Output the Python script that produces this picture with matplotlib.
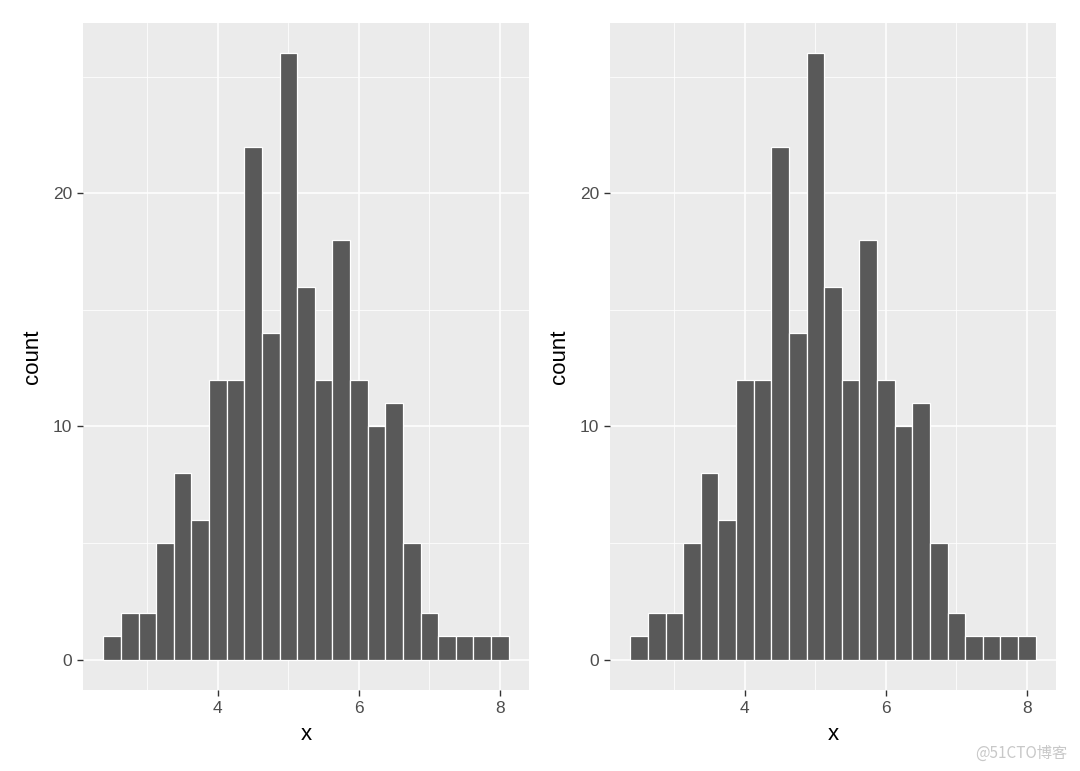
import matplotlib
matplotlib.use("Agg")
import matplotlib.pyplot as plt
import numpy as np

plt.rcParams["font.family"] = ["Liberation Sans", "DejaVu Sans"]

# histogram counts, binwidth 0.25, bins centred on 2.5 ... 8.0
bin_centers = [2.5 + 0.25 * i for i in range(23)]
counts = [1, 2, 2, 5, 8, 6, 12, 12, 22, 14, 26, 16, 12, 18, 12, 10, 11, 5, 2, 1, 1, 1, 1]
binwidth = 0.25
x_ticks = [4, 6, 8]
y_ticks = [0, 10, 20]

fig = plt.figure(figsize=(10.8, 7.71), dpi=100)

panel_lefts = [83 / 1080, 610 / 1080]
panel_w = 446 / 1080
panel_b = 1 - 690 / 771
panel_h = (690 - 23) / 771

lo = bin_centers[0] - binwidth / 2
hi = bin_centers[-1] + binwidth / 2
xpad = (hi - lo) * 0.05
ypad = max(counts) * 0.05

for left in panel_lefts:
    ax = fig.add_axes([left, panel_b, panel_w, panel_h])
    ax.set_facecolor("#EBEBEB")
    for s in ax.spines.values():
        s.set_visible(False)
    ax.set_xlim(lo - xpad, hi + xpad)
    ax.set_ylim(-ypad, max(counts) + ypad)
    ax.set_xticks(x_ticks)
    ax.set_yticks(y_ticks)
    ax.set_xticks([3, 5, 7], minor=True)
    ax.set_yticks([5, 15, 25], minor=True)
    ax.grid(which="major", color="white", linewidth=1.1)
    ax.grid(which="minor", color="white", linewidth=0.55)
    ax.set_axisbelow(True)
    ax.tick_params(which="major", length=4, width=1, color="#333333",
                   labelsize=12.5, labelcolor="#4D4D4D", pad=4)
    ax.tick_params(which="minor", length=0)
    ax.bar(bin_centers, counts, width=binwidth, color="#595959",
           edgecolor="white", linewidth=0.9)
    ax.set_xlabel("x", fontsize=16, labelpad=6)
    ax.set_ylabel("count", fontsize=16, labelpad=7)

fig.text(0.988, 0.012, "@51CTO博客", ha="right", va="bottom", fontsize=11,
         color="#C8C8C8", family=["Noto Sans CJK SC", "DejaVu Sans"])

fig.savefig("out.png", dpi=100)
